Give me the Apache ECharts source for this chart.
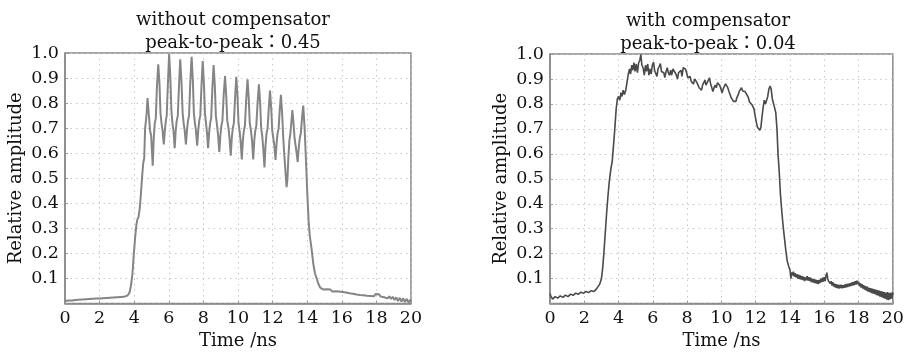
<!DOCTYPE html>
<html>
<head>
<meta charset="utf-8">
<script src="https://cdn.jsdelivr.net/npm/echarts@6/dist/echarts.min.js"></script>
<style>
html,body{margin:0;padding:0;background:#fff;}
#chart{width:907px;height:355px;}
</style>
</head>
<body>
<div id="chart"></div>
<script>
// ---- data ----
const titlesLeft = ['without compensator', 'peak-to-peak\uFF1A0.45'];
const titlesRight = ['with compensator', 'peak-to-peak\uFF1A0.04'];
const xAxisName = 'Time /ns';
const yAxisName = 'Relative amplitude';
const xTickLabels = ['0','2','4','6','8','10','12','14','16','18','20'];
const yTickLabels = ['','0.1','0.2','0.3','0.4','0.5','0.6','0.7','0.8','0.9','1.0'];

// without compensator: [time ns, relative amplitude]
const withoutComp = [
[0.0,0.010],[0.1,0.006],[0.2,0.012],[0.3,0.007],[0.4,0.012],[0.5,0.008],[0.6,0.014],[0.7,0.009],[0.8,0.015],[0.9,0.010],
[1.0,0.016],[1.1,0.011],[1.2,0.017],[1.3,0.012],[1.4,0.018],[1.5,0.013],[1.6,0.019],[1.7,0.014],[1.8,0.020],[1.9,0.015],
[2.0,0.020],[2.1,0.016],[2.2,0.021],[2.3,0.017],[2.4,0.022],[2.5,0.018],[2.6,0.023],[2.7,0.019],[2.8,0.024],[2.9,0.020],
[3.0,0.025],[3.1,0.021],[3.2,0.026],[3.3,0.022],[3.4,0.027],[3.5,0.028],[3.6,0.032],[3.7,0.040],[3.75,0.05],[3.82,0.075],
[3.9,0.12],[3.97,0.19],[4.05,0.26],[4.12,0.31],[4.18,0.335],[4.25,0.345],[4.32,0.38],[4.38,0.43],[4.45,0.5],[4.52,0.56],
[4.58,0.58],[4.63,0.7],[4.68,0.73],[4.72,0.76],[4.77,0.82],
[4.85,0.75],[4.92,0.69],[4.98,0.67],[5.07,0.55],
[5.13,0.66],[5.19,0.72],[5.25,0.74],[5.31,0.86],[5.39,0.955],
[5.46,0.88],[5.52,0.76],[5.58,0.72],[5.64,0.69],[5.71,0.635],
[5.77,0.69],[5.83,0.73],[5.88,0.75],[5.95,0.88],[6.02,0.997],
[6.09,0.9],[6.15,0.77],[6.21,0.72],[6.27,0.69],[6.34,0.62],
[6.4,0.69],[6.46,0.73],[6.52,0.75],[6.59,0.87],[6.66,0.975],
[6.73,0.89],[6.8,0.76],[6.86,0.72],[6.92,0.69],[6.99,0.635],
[7.05,0.69],[7.11,0.73],[7.17,0.75],[7.24,0.88],[7.32,0.985],
[7.39,0.89],[7.45,0.76],[7.51,0.72],[7.57,0.69],[7.64,0.63],
[7.7,0.69],[7.76,0.73],[7.82,0.75],[7.89,0.87],[7.96,0.968],
[8.03,0.88],[8.09,0.76],[8.15,0.72],[8.21,0.68],[8.27,0.62],
[8.33,0.68],[8.39,0.72],[8.45,0.74],[8.52,0.86],[8.59,0.952],
[8.66,0.87],[8.72,0.75],[8.79,0.71],[8.85,0.67],[8.92,0.605],
[8.98,0.67],[9.04,0.71],[9.1,0.73],[9.17,0.83],[9.25,0.908],
[9.32,0.83],[9.38,0.73],[9.45,0.7],[9.51,0.66],[9.58,0.59],
[9.64,0.66],[9.7,0.7],[9.76,0.72],[9.83,0.82],[9.9,0.905],
[9.97,0.83],[10.03,0.72],[10.09,0.69],[10.15,0.65],[10.22,0.575],
[10.28,0.65],[10.34,0.69],[10.4,0.71],[10.47,0.81],[10.55,0.895],
[10.62,0.82],[10.68,0.72],[10.75,0.69],[10.81,0.65],[10.88,0.575],
[10.94,0.65],[11.0,0.69],[11.06,0.71],[11.13,0.8],[11.21,0.875],
[11.28,0.8],[11.34,0.7],[11.4,0.67],[11.46,0.62],[11.53,0.543],
[11.59,0.63],[11.65,0.68],[11.71,0.7],[11.78,0.78],[11.85,0.85],
[11.92,0.78],[11.98,0.69],[12.04,0.66],[12.1,0.63],[12.17,0.573],
[12.23,0.64],[12.29,0.68],[12.35,0.7],[12.41,0.77],[12.48,0.833],
[12.55,0.76],[12.61,0.67],[12.67,0.6],[12.72,0.55],[12.77,0.5],[12.81,0.465],
[12.86,0.5],[12.91,0.58],[12.97,0.65],[13.03,0.68],[13.08,0.72],[13.14,0.772],
[13.21,0.72],[13.27,0.66],[13.33,0.63],[13.39,0.6],[13.45,0.565],
[13.51,0.62],[13.57,0.66],[13.63,0.68],[13.7,0.74],[13.77,0.79],
[13.85,0.7],[13.93,0.57],[14.0,0.45],[14.08,0.33],[14.15,0.27],[14.25,0.22],[14.35,0.16],[14.45,0.12],[14.55,0.1],
[14.65,0.078],[14.75,0.064],[14.85,0.057],
[14.95,0.056],[15.05,0.049],[15.15,0.057],[15.25,0.05],[15.35,0.056],[15.45,0.048],[15.55,0.055],[15.65,0.049],[15.75,0.056],
[15.85,0.048],[15.95,0.054],[16.05,0.046],[16.15,0.052],[16.25,0.044],[16.35,0.05],[16.45,0.041],[16.55,0.047],[16.65,0.039],
[16.75,0.045],[16.85,0.036],[16.95,0.042],[17.05,0.034],[17.15,0.04],[17.25,0.033],[17.35,0.039],[17.45,0.031],[17.55,0.038],
[17.65,0.03],[17.75,0.037],[17.85,0.029],[17.95,0.038],[18.05,0.031],[18.15,0.037],[18.25,0.028],[18.35,0.034],[18.45,0.025],
[18.55,0.031],[18.65,0.021],[18.75,0.029],[18.85,0.019],[18.95,0.027],[19.05,0.014],[19.15,0.025],[19.25,0.01],[19.35,0.023],
[19.45,0.008],[19.55,0.021],[19.65,0.006],[19.75,0.019],[19.85,0.005],[19.95,0.015],[20.0,0.008]
];

// with compensator: [time ns, relative amplitude]
const withComp = [
[0.0,0.04],[0.05,0.03],[0.1,0.026],[0.15,0.018],[0.2,0.026],[0.25,0.02],[0.3,0.028],[0.35,0.021],[0.4,0.029],[0.45,0.022],
[0.5,0.03],[0.55,0.023],[0.6,0.031],[0.65,0.024],[0.7,0.032],[0.75,0.025],[0.8,0.033],[0.85,0.026],[0.9,0.034],[0.95,0.027],
[1.0,0.035],[1.05,0.028],[1.1,0.036],[1.15,0.03],[1.2,0.038],[1.25,0.031],[1.3,0.039],[1.35,0.033],[1.4,0.041],[1.45,0.034],
[1.5,0.042],[1.55,0.036],[1.6,0.043],[1.65,0.037],[1.7,0.045],[1.75,0.038],[1.8,0.046],[1.85,0.04],[1.9,0.047],[1.95,0.041],
[2.0,0.048],[2.05,0.042],[2.1,0.049],[2.15,0.043],[2.2,0.05],[2.25,0.044],[2.3,0.051],[2.35,0.045],[2.4,0.052],[2.45,0.046],
[2.5,0.053],[2.55,0.048],[2.6,0.055],[2.65,0.052],[2.7,0.058],[2.75,0.06],[2.8,0.065],
[2.9,0.078],[3.0,0.1],[3.07,0.14],[3.14,0.2],[3.22,0.28],[3.3,0.36],[3.38,0.43],[3.46,0.49],[3.55,0.54],[3.63,0.57],
[3.7,0.63],[3.78,0.7],[3.86,0.78],[3.93,0.82],[4.0,0.83],[4.07,0.815],[4.14,0.845],[4.2,0.83],[4.27,0.855],[4.34,0.838],
[4.42,0.855],[4.5,0.89],[4.57,0.92],[4.64,0.94],[4.7,0.92],[4.77,0.955],[4.83,0.935],[4.9,0.965],[4.96,0.93],[5.03,0.96],
[5.1,0.925],[5.17,0.965],[5.24,0.975],[5.3,0.998],[5.36,0.955],[5.43,0.945],[5.5,0.915],[5.57,0.955],[5.63,0.93],[5.7,0.96],
[5.77,0.915],[5.83,0.94],[5.9,0.92],[5.97,0.955],[6.04,0.968],[6.1,0.935],[6.17,0.935],[6.24,0.91],[6.3,0.94],[6.37,0.95],
[6.44,0.962],[6.5,0.93],[6.57,0.925],[6.64,0.925],[6.7,0.905],[6.77,0.93],[6.84,0.945],[6.9,0.925],[6.97,0.915],[7.04,0.935],
[7.1,0.915],[7.17,0.94],[7.24,0.945],[7.3,0.925],[7.37,0.915],[7.44,0.9],[7.5,0.925],[7.57,0.93],[7.64,0.935],[7.7,0.91],
[7.77,0.945],[7.84,0.95],[7.9,0.94],[7.97,0.925],[8.04,0.905],[8.1,0.9],[8.17,0.91],[8.24,0.89],[8.3,0.895],[8.37,0.88],
[8.44,0.9],[8.5,0.905],[8.57,0.885],[8.64,0.875],[8.7,0.865],[8.77,0.87],[8.84,0.855],[8.9,0.875],[8.97,0.885],[9.04,0.895],
[9.1,0.875],[9.17,0.87],[9.24,0.895],[9.3,0.905],[9.37,0.88],[9.44,0.865],[9.5,0.85],[9.57,0.865],[9.64,0.875],[9.7,0.865],
[9.77,0.885],[9.84,0.89],[9.9,0.875],[9.97,0.86],[10.04,0.845],[10.1,0.86],[10.17,0.87],[10.24,0.88],[10.3,0.875],[10.37,0.865],
[10.44,0.85],[10.5,0.845],[10.57,0.825],[10.64,0.825],[10.7,0.81],[10.77,0.815],[10.84,0.81],[10.9,0.825],[10.97,0.835],[11.04,0.85],
[11.1,0.855],[11.17,0.865],[11.24,0.852],[11.3,0.855],[11.37,0.85],[11.44,0.858],[11.5,0.835],[11.57,0.825],[11.64,0.808],[11.7,0.815],
[11.77,0.798],[11.84,0.8],[11.9,0.78],[11.97,0.75],[12.04,0.725],[12.1,0.707],[12.17,0.7],[12.24,0.695],[12.3,0.705],[12.37,0.75],
[12.44,0.79],[12.5,0.815],[12.57,0.8],[12.64,0.795],[12.7,0.83],[12.77,0.86],[12.84,0.872],[12.9,0.86],[12.97,0.82],[13.04,0.812],
[13.1,0.785],[13.17,0.765],[13.24,0.7],[13.3,0.6],[13.37,0.53],[13.44,0.44],[13.52,0.37],[13.6,0.31],[13.68,0.26],[13.76,0.21],
[13.84,0.17],[13.92,0.15],[14.0,0.135],
[14.05,0.10],[14.1,0.125],[14.15,0.112],[14.2,0.128],[14.25,0.108],[14.3,0.122],[14.35,0.105],[14.4,0.118],[14.45,0.1],[14.5,0.116],
[14.55,0.098],[14.6,0.113],[14.65,0.096],[14.7,0.11],[14.75,0.094],[14.8,0.108],[14.85,0.09],[14.9,0.105],[14.95,0.094],[15.0,0.11],
[15.05,0.092],[15.1,0.106],[15.15,0.09],[15.2,0.104],[15.25,0.086],[15.3,0.1],[15.35,0.084],[15.4,0.098],[15.45,0.082],[15.5,0.096],
[15.55,0.08],[15.6,0.094],[15.65,0.078],[15.7,0.095],[15.75,0.082],[15.8,0.1],[15.85,0.086],[15.9,0.104],[15.95,0.088],[16.0,0.106],
[16.05,0.09],[16.1,0.112],[16.15,0.124],[16.2,0.1],[16.25,0.09],[16.3,0.096],[16.35,0.08],[16.4,0.09],[16.45,0.072],[16.5,0.086],
[16.55,0.068],[16.6,0.08],[16.65,0.064],[16.7,0.078],[16.75,0.062],[16.8,0.076],[16.85,0.06],[16.9,0.075],[16.95,0.062],[17.0,0.076],
[17.05,0.061],[17.1,0.074],[17.15,0.063],[17.2,0.077],[17.25,0.064],[17.3,0.079],[17.35,0.066],[17.4,0.08],[17.45,0.068],[17.5,0.082],
[17.55,0.07],[17.6,0.085],[17.65,0.072],[17.7,0.087],[17.75,0.074],[17.8,0.09],[17.85,0.076],[17.9,0.092],[17.95,0.078],[18.0,0.088],
[18.05,0.07],[18.1,0.082],[18.15,0.064],[18.2,0.078],[18.25,0.06],[18.3,0.074],[18.35,0.056],[18.4,0.07],[18.45,0.052],[18.5,0.068],
[18.55,0.048],[18.6,0.064],[18.65,0.046],[18.7,0.062],[18.75,0.042],[18.8,0.06],[18.85,0.04],[18.9,0.058],[18.95,0.038],[19.0,0.056],
[19.05,0.034],[19.1,0.054],[19.15,0.032],[19.2,0.052],[19.25,0.028],[19.3,0.05],[19.35,0.026],[19.4,0.048],[19.45,0.022],[19.5,0.046],
[19.55,0.02],[19.6,0.044],[19.65,0.016],[19.7,0.046],[19.75,0.014],[19.8,0.042],[19.85,0.018],[19.9,0.044],[19.95,0.02],[20.0,0.045]
];

// ---- chart ----
const FONT = '"DejaVu Serif", "Noto Sans CJK TC", serif';
const chart = echarts.init(document.getElementById('chart'), null, {renderer: 'canvas'});

function xAxisCfg(gridIndex) {
  return {
    gridIndex, type: 'value', min: 0, max: 20, interval: 2,
    name: xAxisName, nameLocation: 'middle', nameGap: 25,
    nameTextStyle: {fontFamily: FONT, fontSize: 18, color: '#111'},
    axisLine: {show: true, lineStyle: {color: '#888', width: 1.5}},
    axisTick: {show: true, inside: true, length: 3, lineStyle: {color: '#999'}},
    axisLabel: {fontFamily: FONT, fontSize: 17.5, color: '#111', margin: 6,
      formatter: (v) => xTickLabels[Math.round(v / 2)] || ''},
    splitLine: {show: true, lineStyle: {color: '#c8c8c8', type: [1.5, 4], width: 1}}
  };
}
function yAxisCfg(gridIndex) {
  return {
    gridIndex, type: 'value', min: 0, max: 1, interval: 0.1,
    name: yAxisName, nameLocation: 'middle', nameGap: 40, nameRotate: 90,
    nameTextStyle: {fontFamily: FONT, fontSize: 18, color: '#111'},
    axisLine: {show: true, lineStyle: {color: '#888', width: 1.5}},
    axisTick: {show: true, inside: true, length: 3, lineStyle: {color: '#999'}},
    axisLabel: {fontFamily: FONT, fontSize: 17.5, color: '#111', margin: 6,
      formatter: (v) => yTickLabels[Math.round(v * 10)] || ''},
    splitLine: {show: true, lineStyle: {color: '#c8c8c8', type: [1.5, 4], width: 1}}
  };
}
function titleText(x, y, s) {
  return {type: 'text', x, y, style: {text: s, fontFamily: FONT, fontSize: 18, fill: '#111',
    textAlign: 'center', textVerticalAlign: 'middle'}};
}

chart.setOption({
  animation: false,
  grid: [
    {left: 65, top: 53, width: 346, height: 256, show: true, borderColor: '#888', borderWidth: 1.5},
    {left: 550, top: 54, width: 344, height: 257, show: true, borderColor: '#888', borderWidth: 1.5}
  ],
  xAxis: [xAxisCfg(0), xAxisCfg(1)],
  yAxis: [yAxisCfg(0), yAxisCfg(1)],
  graphic: [
    titleText(233, 20, titlesLeft[0]),
    titleText(233, 43, titlesLeft[1]),
    titleText(708, 21, titlesRight[0]),
    titleText(708, 44, titlesRight[1])
  ],
  series: [
    {type: 'line', xAxisIndex: 0, yAxisIndex: 0, data: withoutComp, showSymbol: false,
      lineStyle: {color: '#858585', width: 2}},
    {type: 'line', xAxisIndex: 1, yAxisIndex: 1, data: withComp, showSymbol: false,
      lineStyle: {color: '#4a4a4a', width: 1.6}}
  ]
});
</script>
</body>
</html>
